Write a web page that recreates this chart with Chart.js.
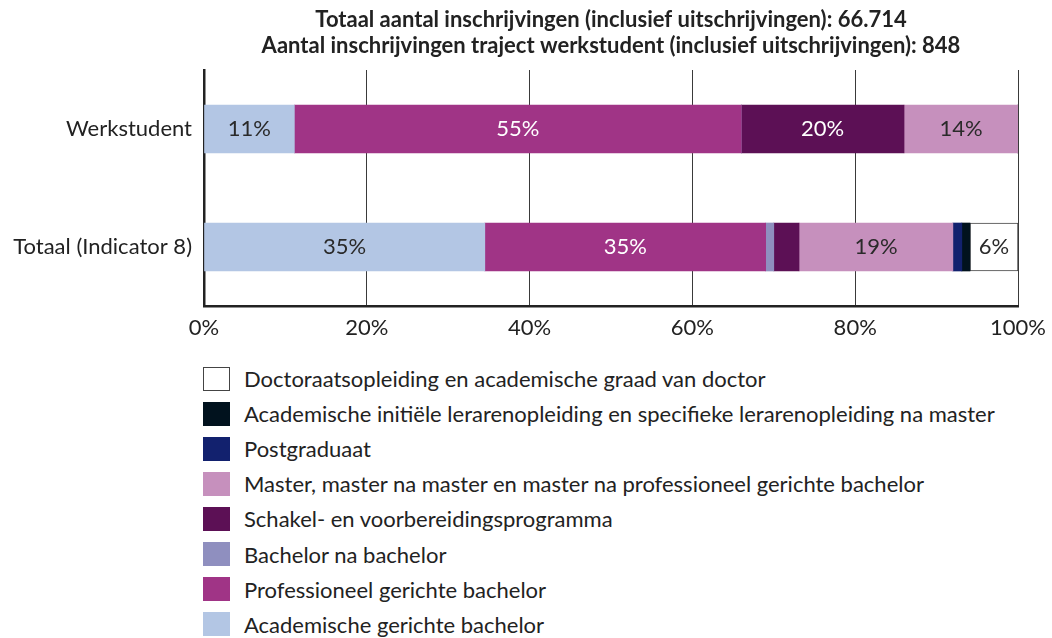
<!DOCTYPE html>
<html>
<head>
<meta charset="utf-8">
<script src="https://cdn.jsdelivr.net/npm/chart.js@4.4.1/dist/chart.umd.min.js"></script>
<style>
  html, body { margin: 0; background: #fff; }
  #wrap { position: relative; width: 1052px; height: 638px; }
  #chart { position: absolute; left: 0; top: 0; }
  #legend { position: absolute; left: 203px; top: 361px; font-family: Lato, sans-serif; font-size: 22px; color: #222; }
  .item { display: flex; align-items: center; height: 35.1px; white-space: nowrap; }
  .box { width: 27px; height: 24px; margin-right: 14px; box-sizing: border-box; }
</style>
</head>
<body>
<div id="wrap">
  <canvas id="chart" width="1052" height="345"></canvas>
  <div id="legend"></div>
</div>
<script>
// categorieen en titel
const categories = ['Werkstudent', 'Totaal (Indicator 8)'];
const titleLines = [
    'Totaal aantal inschrijvingen (inclusief uitschrijvingen): 66.714',
    'Aantal inschrijvingen traject werkstudent (inclusief uitschrijvingen): 848'
];
const xTicks = [0, 20, 40, 60, 80, 100];

// aandeel per opleidingstype (%), volgorde zoals gestapeld
const academischBachelor = [11.1, 34.5];
const professioneelBachelor = [54.9, 34.5];
const bachelorNaBachelor = [0, 1.0];
const schakelprogramma = [20.0, 3.1];
const master = [14.0, 18.9];
const postgraduaat = [0, 1.1];
const lerarenopleiding = [0, 1.0];
const doctoraat = [0, 5.9];

const series = [
    { label: 'Academische gerichte bachelor', data: academischBachelor, color: '#b3c6e4', text: '#2a2a2a' },
    { label: 'Professioneel gerichte bachelor', data: professioneelBachelor, color: '#a03486', text: '#ffffff' },
    { label: 'Bachelor na bachelor', data: bachelorNaBachelor, color: '#8f8fbf', text: '#ffffff' },
    { label: 'Schakel- en voorbereidingsprogramma', data: schakelprogramma, color: '#5c1055', text: '#ffffff' },
    { label: 'Master, master na master en master na professioneel gerichte bachelor', data: master, color: '#c690bd', text: '#2a2a2a' },
    { label: 'Postgraduaat', data: postgraduaat, color: '#12216e', text: '#ffffff' },
    { label: 'Academische initiële lerarenopleiding en specifieke lerarenopleiding na master', data: lerarenopleiding, color: '#01121e', text: '#ffffff' },
    { label: 'Doctoraatsopleiding en academische graad van doctor', data: doctoraat, color: '#ffffff', text: '#2a2a2a', border: '#444' }
];

const FONT = 'Lato';

// percentages in de balken (alleen grotere stukken)
const barLabels = {
    id: 'barLabels',
    afterDatasetsDraw(chart) {
        const ctx = chart.ctx;
        ctx.save();
        ctx.font = `22px ${FONT}`;
        ctx.textAlign = 'center';
        ctx.textBaseline = 'middle';
        chart.data.datasets.forEach((ds, i) => {
            chart.getDatasetMeta(i).data.forEach((bar, j) => {
                const v = ds.data[j];
                if (v < 5) return;
                ctx.fillStyle = series[i].text;
                ctx.fillText(Math.round(v) + '%', (bar.x + bar.base) / 2, bar.y);
            });
        });
        ctx.restore();
    }
};

const chart = new Chart(document.getElementById('chart'), {
    type: 'bar',
    data: {
        labels: categories,
        datasets: series.map(s => ({
            label: s.label,
            data: s.data,
            backgroundColor: s.color,
            borderColor: s.border || s.color,
            borderWidth: s.border ? 1 : 0,
            borderSkipped: false,
            barThickness: 48
        }))
    },
    options: {
        indexAxis: 'y',
        responsive: false,
        animation: false,
        layout: { padding: { top: 0, right: 34, bottom: 0, left: 0 } },
        scales: {
            x: {
                stacked: true,
                min: 0,
                max: 100,
                afterBuildTicks: s => { s.ticks = xTicks.map(v => ({ value: v })); },
                afterFit: s => { s.height = 39; s.paddingLeft = 0; s.paddingRight = 0; },
                ticks: {
                    callback: v => v + '%',
                    color: '#222',
                    font: { family: FONT, size: 22 },
                    padding: 9,
                    maxRotation: 0
                },
                grid: { color: '#3a3a3a', lineWidth: 1, drawTicks: false },
                border: { color: '#222', width: 2.5 }
            },
            y: {
                stacked: true,
                afterFit: s => { s.width = 204; },
                ticks: {
                    color: '#222',
                    font: { family: FONT, size: 22 },
                    padding: 12
                },
                grid: { display: false, drawTicks: false },
                border: { color: '#222', width: 2.5 }
            }
        },
        plugins: {
            legend: { display: false },
            tooltip: { enabled: false },
            title: {
                display: true,
                text: titleLines,
                fullSize: false,
                color: '#222',
                font: { family: FONT, size: 22, weight: 'bold', lineHeight: '26px' },
                padding: { top: 7, bottom: 11 }
            }
        }
    },
    plugins: [barLabels]
});

// legenda (omgekeerde volgorde)
const legend = document.getElementById('legend');
series.slice().reverse().forEach(s => {
    const item = document.createElement('div');
    item.className = 'item';
    const box = document.createElement('span');
    box.className = 'box';
    box.style.background = s.color;
    if (s.border) box.style.border = '1px solid ' + s.border;
    const txt = document.createElement('span');
    txt.textContent = s.label;
    item.appendChild(box);
    item.appendChild(txt);
    legend.appendChild(item);
});
</script>
</body>
</html>
